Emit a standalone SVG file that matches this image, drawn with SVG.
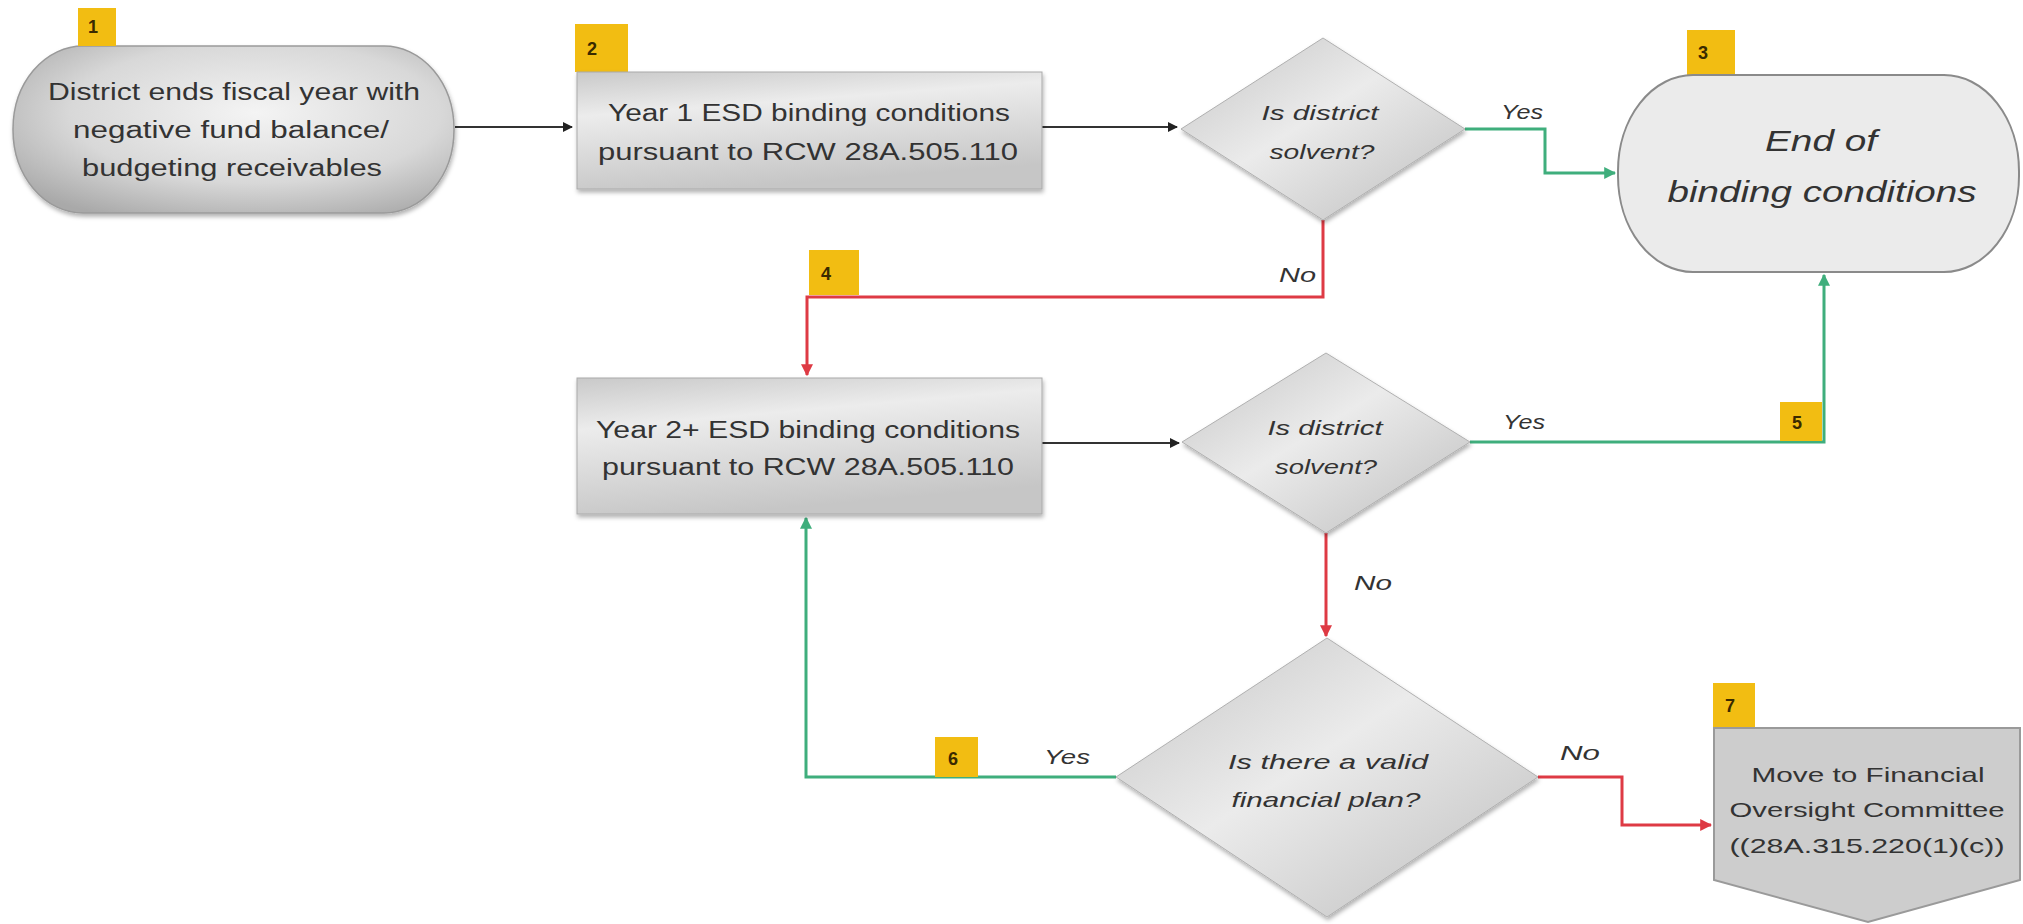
<svg xmlns="http://www.w3.org/2000/svg" width="2023" height="924" viewBox="0 0 2023 924">
<style>
.t{font-family:"Liberation Sans",Arial,sans-serif;font-size:23px;fill:#333;text-anchor:middle}
.q{font-family:"Liberation Sans",Arial,sans-serif;font-size:21px;fill:#333;text-anchor:middle;font-style:italic}
.lbl{font-family:"Liberation Sans",Arial,sans-serif;font-size:20px;fill:#333;font-style:italic}
.badge{fill:#f2bd12}
.bt{font-family:"Liberation Sans",Arial,sans-serif;font-size:18px;font-weight:bold;fill:#3a2a00;text-anchor:middle}
.blk{fill:none;stroke:#333;stroke-width:2}
.grn{fill:none;stroke:#3fae7c;stroke-width:3}
.red{fill:none;stroke:#de3a44;stroke-width:3}
</style>
<defs>
<radialGradient id="gStad" cx="0.55" cy="0.4" r="0.7">
<stop offset="0" stop-color="#f4f4f4"/><stop offset="0.6" stop-color="#d8d8d8"/><stop offset="1" stop-color="#a9a9a9"/>
</radialGradient>
<linearGradient id="gRect" x1="0" y1="0" x2="0.3" y2="1">
<stop offset="0" stop-color="#c9c9c9"/><stop offset="0.35" stop-color="#ececec"/><stop offset="1" stop-color="#c6c6c6"/>
</linearGradient>
<linearGradient id="gDia" x1="0" y1="0" x2="1" y2="1">
<stop offset="0" stop-color="#c4c4c4"/><stop offset="0.45" stop-color="#ebebeb"/><stop offset="1" stop-color="#bdbdbd"/>
</linearGradient>
<filter id="sh" x="-10%" y="-10%" width="120%" height="130%">
<feDropShadow dx="1" dy="3" stdDeviation="2" flood-color="#000" flood-opacity="0.3"/>
</filter>
<marker id="aB" viewBox="0 0 10 10" refX="9" refY="5" markerWidth="5" markerHeight="5" orient="auto"><path d="M0,0 L10,5 L0,10 z" fill="#222"/></marker>
<marker id="aG" viewBox="0 0 10 10" refX="9" refY="5" markerWidth="4" markerHeight="4" orient="auto"><path d="M0,0 L10,5 L0,10 z" fill="#3fae7c"/></marker>
<marker id="aR" viewBox="0 0 10 10" refX="9" refY="5" markerWidth="4" markerHeight="4" orient="auto"><path d="M0,0 L10,5 L0,10 z" fill="#de3a44"/></marker>
</defs>
<rect width="2023" height="924" fill="#fff"/>

<g id="connectors">
<path class="blk" d="M455,127 H572" marker-end="url(#aB)"/>
<path class="blk" d="M1042,127 H1177" marker-end="url(#aB)"/>
<path class="grn" d="M1465,129 H1545 V173 H1615" marker-end="url(#aG)"/>
<path class="red" d="M1323,220 V297 H807 V375" marker-end="url(#aR)"/>
<path class="blk" d="M1042,443 H1179" marker-end="url(#aB)"/>
<path class="grn" d="M1470,442 H1824 V275" marker-end="url(#aG)"/>
<path class="red" d="M1326,533 V636" marker-end="url(#aR)"/>
<path class="grn" d="M1116,777 H806 V518" marker-end="url(#aG)"/>
<path class="red" d="M1538,777 H1622 V825 H1711" marker-end="url(#aR)"/>
<text class="lbl" x="1501" y="119" textLength="42" lengthAdjust="spacingAndGlyphs">Yes</text>
<text class="lbl" x="1279" y="282" textLength="37" lengthAdjust="spacingAndGlyphs">No</text>
<text class="lbl" x="1503" y="429" textLength="42" lengthAdjust="spacingAndGlyphs">Yes</text>
<text class="lbl" x="1354" y="590" textLength="38" lengthAdjust="spacingAndGlyphs">No</text>
<text class="lbl" x="1044" y="764" textLength="46" lengthAdjust="spacingAndGlyphs">Yes</text>
<text class="lbl" x="1560" y="760" textLength="40" lengthAdjust="spacingAndGlyphs">No</text>
</g>

<g id="node1">
<rect x="13" y="46" width="441" height="167" rx="70" ry="83" fill="url(#gStad)" stroke="#9a9a9a" stroke-width="1.5" filter="url(#sh)"/>
<rect class="badge" x="78" y="8" width="38" height="38"/>
<text class="bt" x="93" y="33">1</text>
<text class="t" x="234" y="100" textLength="372" lengthAdjust="spacingAndGlyphs">District ends fiscal year with</text>
<text class="t" x="231" y="138" textLength="316" lengthAdjust="spacingAndGlyphs">negative fund balance/</text>
<text class="t" x="232" y="176" textLength="300" lengthAdjust="spacingAndGlyphs">budgeting receivables</text>
</g>

<g id="node2">
<rect class="badge" x="575" y="24" width="53" height="48"/>
<text class="bt" x="592" y="55">2</text>
<rect x="577" y="72" width="465" height="117" fill="url(#gRect)" stroke="#aaa" stroke-width="1" filter="url(#sh)"/>
<text class="t" x="809" y="121" textLength="402" lengthAdjust="spacingAndGlyphs">Year 1 ESD binding conditions</text>
<text class="t" x="808" y="160" textLength="420" lengthAdjust="spacingAndGlyphs">pursuant to RCW 28A.505.110</text>
</g>

<g id="decision1">
<polygon points="1323,38 1465,129 1323,220 1181,129" fill="url(#gDia)" stroke="#b0b0b0" stroke-width="1" filter="url(#sh)"/>
<text class="q" x="1320" y="120" textLength="117" lengthAdjust="spacingAndGlyphs">Is district</text>
<text class="q" x="1322" y="159" textLength="105" lengthAdjust="spacingAndGlyphs">solvent?</text>
</g>

<g id="node3">
<rect class="badge" x="1687" y="30" width="48" height="45"/>
<text class="bt" x="1703" y="59">3</text>
<rect x="1618" y="75" width="401" height="197" rx="75" ry="96" fill="#ebebeb" stroke="#8a8a8a" stroke-width="2"/>
<text class="t" x="1821" y="151" style="font-size:30px;font-style:italic" textLength="112" lengthAdjust="spacingAndGlyphs">End of</text>
<text class="t" x="1822" y="202" style="font-size:30px;font-style:italic" textLength="309" lengthAdjust="spacingAndGlyphs">binding conditions</text>
</g>

<g id="node4">
<rect class="badge" x="809" y="250" width="50" height="45"/>
<text class="bt" x="826" y="280">4</text>
<rect x="577" y="378" width="465" height="136" fill="url(#gRect)" stroke="#aaa" stroke-width="1" filter="url(#sh)"/>
<text class="t" x="808" y="438" textLength="424" lengthAdjust="spacingAndGlyphs">Year 2+ ESD binding conditions</text>
<text class="t" x="808" y="475" textLength="412" lengthAdjust="spacingAndGlyphs">pursuant to RCW 28A.505.110</text>
</g>

<g id="decision2">
<polygon points="1326,353 1470,442 1326,533 1182,442" fill="url(#gDia)" stroke="#b0b0b0" stroke-width="1" filter="url(#sh)"/>
<text class="q" x="1325" y="435" textLength="115" lengthAdjust="spacingAndGlyphs">Is district</text>
<text class="q" x="1326" y="474" textLength="102" lengthAdjust="spacingAndGlyphs">solvent?</text>
</g>

<g id="node5">
<rect class="badge" x="1780" y="402" width="42" height="39"/>
<text class="bt" x="1797" y="429">5</text>
</g>

<g id="decision3">
<polygon points="1327,638 1538,777 1327,917 1116,777" fill="url(#gDia)" stroke="#b0b0b0" stroke-width="1" filter="url(#sh)"/>
<text class="q" x="1328" y="769" textLength="200" lengthAdjust="spacingAndGlyphs">Is there a valid</text>
<text class="q" x="1326" y="807" textLength="189" lengthAdjust="spacingAndGlyphs">financial plan?</text>
</g>

<g id="node6">
<rect class="badge" x="935" y="737" width="43" height="40"/>
<text class="bt" x="953" y="765">6</text>
</g>

<g id="node7">
<rect class="badge" x="1713" y="683" width="42" height="45"/>
<text class="bt" x="1730" y="712">7</text>
<polygon points="1714,728 2020,728 2020,880 1868,922 1714,880" fill="#cdcdcd" stroke="#9a9a9a" stroke-width="2"/>
<text class="t" x="1868" y="782" style="font-size:21px" textLength="233" lengthAdjust="spacingAndGlyphs">Move to Financial</text>
<text class="t" x="1867" y="817" style="font-size:21px" textLength="275" lengthAdjust="spacingAndGlyphs">Oversight Committee</text>
<text class="t" x="1867" y="853" style="font-size:21px" textLength="275" lengthAdjust="spacingAndGlyphs">((28A.315.220(1)(c))</text>
</g>
</svg>
